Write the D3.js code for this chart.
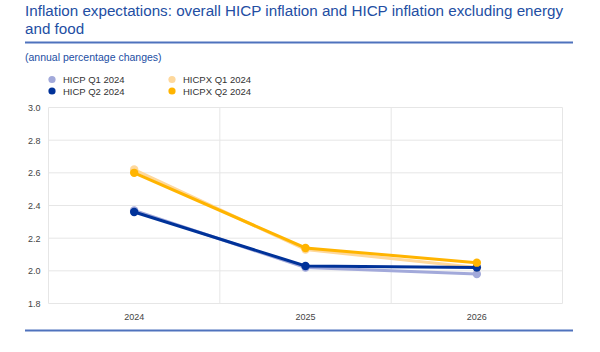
<!DOCTYPE html>
<html>
<head>
<meta charset="utf-8">
<script src="https://cdn.jsdelivr.net/npm/d3@7"></script>
<style>
  body { margin: 0; background: #fff; }
  svg { font-family: Arial, "Liberation Sans", sans-serif; }
</style>
</head>
<body>
<svg id="chart" width="600" height="352"></svg>
<script>
var width = 600,
    height = 352;

// data
var years = ["2024", "2025", "2026"];
var yTicks = [1.8, 2.0, 2.2, 2.4, 2.6, 2.8, 3.0];
var seriesNames = ["HICP Q1 2024", "HICP Q2 2024", "HICPX Q1 2024", "HICPX Q2 2024"];
var hicpQ1 = [2.37, 2.02, 1.98];
var hicpQ2 = [2.36, 2.03, 2.02];
var hicpxQ1 = [2.62, 2.13, 2.02];
var hicpxQ2 = [2.60, 2.14, 2.05];

var colors = ["#a2a9da", "#003299", "#fed89c", "#ffb400"];
var allSeries = [hicpQ1, hicpxQ1, hicpQ2, hicpxQ2]; // drawing order: light first
var allColors = [colors[0], colors[2], colors[1], colors[3]];

var svg = d3.select("#chart");
var blue = "#234ea3";

// title
svg.append("text").attr("x", 25).attr("y", 16)
  .attr("fill", blue).attr("font-size", 15.2)
  .text("Inflation expectations: overall HICP inflation and HICP inflation excluding energy");
svg.append("text").attr("x", 25).attr("y", 34)
  .attr("fill", blue).attr("font-size", 15.2)
  .text("and food");
svg.append("line").attr("x1", 25).attr("x2", 573).attr("y1", 42.5).attr("y2", 42.5)
  .attr("stroke", "#4f72bd").attr("stroke-width", 2);
svg.append("text").attr("x", 25).attr("y", 61)
  .attr("fill", blue).attr("font-size", 10.5)
  .text("(annual percentage changes)");

// legend
var legendPos = [[52, 79.5], [52, 91], [172, 79.5], [172, 91]];
seriesNames.forEach(function(name, i) {
  var g = svg.append("g").attr("transform", "translate(" + legendPos[i][0] + "," + legendPos[i][1] + ")");
  g.append("circle").attr("r", 3.6).attr("fill", colors[i]);
  g.append("text").attr("x", 11).attr("y", 3.5).attr("font-size", 9.5).attr("fill", "#333")
    .text(name);
});

// scales
var x = d3.scaleBand().domain(years).range([48.5, 562.5]);
var y = d3.scaleLinear().domain([1.8, 3.0]).range([303.5, 107.5]);

// grid
var grid = svg.append("g");
grid.selectAll(".h").data(yTicks).join("line")
  .attr("x1", x.range()[0]).attr("x2", x.range()[1])
  .attr("y1", function(d) { return y(d); }).attr("y2", function(d) { return y(d); })
  .attr("stroke", "#e6e6e6").attr("stroke-width", 1);
grid.selectAll(".v").data([0, 1, 2, 3]).join("line")
  .attr("x1", function(i) { return x.range()[0] + i * x.step(); })
  .attr("x2", function(i) { return x.range()[0] + i * x.step(); })
  .attr("y1", y(3.0)).attr("y2", y(1.8))
  .attr("stroke", "#e6e6e6").attr("stroke-width", 1);

// axes
var yAxis = svg.append("g").attr("transform", "translate(" + x.range()[0] + ",0)")
  .call(d3.axisLeft(y).tickValues(yTicks).tickFormat(d3.format(".1f")).tickSize(0).tickPadding(8));
yAxis.select(".domain").remove();
yAxis.selectAll("text").attr("font-size", 9).attr("fill", "#444").attr("font-family", "Arial, Liberation Sans, sans-serif");

var xAxis = svg.append("g").attr("transform", "translate(0," + y(1.8) + ")")
  .call(d3.axisBottom(x).tickSize(0).tickPadding(10));
xAxis.select(".domain").remove();
xAxis.selectAll("text").attr("font-size", 9).attr("fill", "#444").attr("font-family", "Arial, Liberation Sans, sans-serif");

// lines
var line = d3.line()
  .x(function(d, i) { return x(years[i]) + x.bandwidth() / 2; })
  .y(function(d) { return y(d); });

allSeries.forEach(function(s, k) {
  svg.append("path").datum(s)
    .attr("d", line)
    .attr("fill", "none")
    .attr("stroke", allColors[k])
    .attr("stroke-width", 3);
  svg.append("g").selectAll("circle").data(s).join("circle")
    .attr("cx", function(d, i) { return x(years[i]) + x.bandwidth() / 2; })
    .attr("cy", function(d) { return y(d); })
    .attr("r", 4.2)
    .attr("fill", allColors[k]);
});

// bottom rule
svg.append("line").attr("x1", 25).attr("x2", 573).attr("y1", 330.5).attr("y2", 330.5)
  .attr("stroke", "#4f72bd").attr("stroke-width", 2);
</script>
</body>
</html>
